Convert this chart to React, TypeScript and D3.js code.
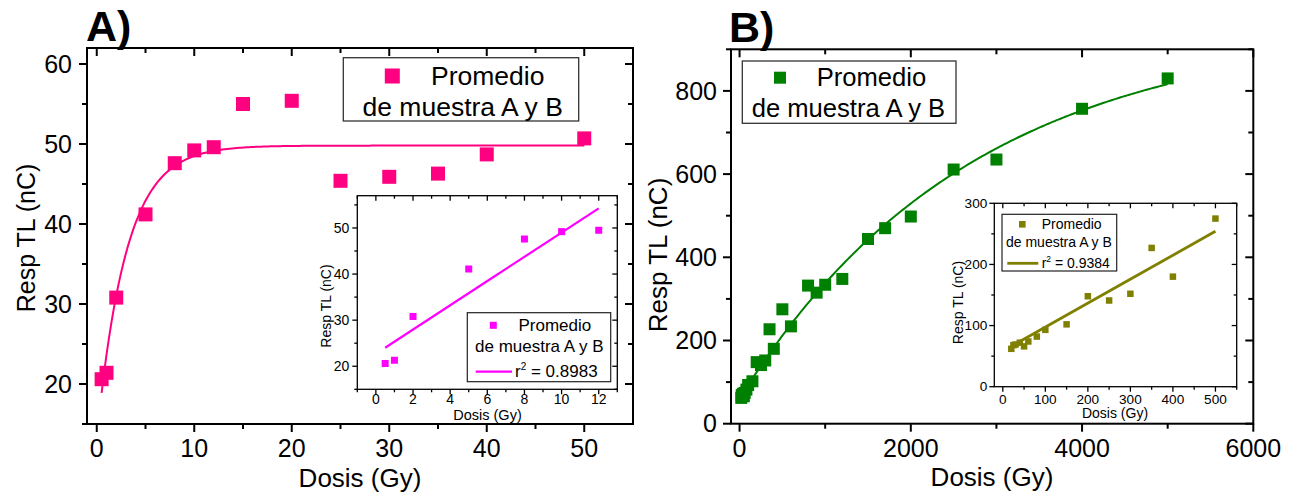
import React from "react";
import * as d3 from "d3";

// ---------- Data ----------
const doseA = [0.5, 1, 2, 5, 8, 10, 12, 15, 20, 25, 30, 35, 40, 50];
const respA = [20.6, 21.4, 30.8, 41.2, 47.6, 49.2, 49.6, 55.0, 55.4, 45.4, 45.9, 46.3, 48.7, 50.7];

const doseAInset = [0.5, 1, 2, 5, 8, 10, 12];
const respAInset = [20.6, 21.3, 30.8, 41.1, 47.6, 49.2, 49.5];

const doseB = [20, 25, 30, 40, 50, 60, 80, 100, 150, 200, 250, 300, 350, 400, 500, 600, 800, 900, 1000, 1200, 1500, 1700, 2000, 2500, 3000, 4000, 5000];
const respB = [62, 68, 69, 72, 66, 74, 82, 93, 102, 148, 141, 152, 227, 180, 275, 234, 332, 315, 334, 348, 444, 470, 498, 611, 635, 757, 830];

const doseBInset = [20, 25, 30, 40, 50, 60, 80, 100, 150, 200, 250, 300, 350, 400, 500];
const respBInset = [62, 68, 69, 72, 66, 74, 82, 93, 102, 148, 141, 152, 227, 180, 275];

// fit parameters
const fitA = { plateau: 49.8, amp: 36.5, tau: 3.0, from: 0.5, to: 50 };
const fitAInset = { slope: 2.63, intercept: 22.7, from: 0.5, to: 12, r2: "0.8983" };
const fitB = { y0: 60, amp: 897, tau: 2700, from: 20, to: 5000 };
const fitBInset = { slope: 0.392, intercept: 58.2, from: 20, to: 500, r2: "0.9384" };

// ticks
const ticksAX = [0, 10, 20, 30, 40, 50];
const ticksAXMinor = [5, 15, 25, 35, 45];
const ticksAY = [20, 30, 40, 50, 60];
const ticksAYMinor = [15, 25, 35, 45, 55];
const ticksAiX = [0, 2, 4, 6, 8, 10, 12];
const ticksAiXMinor = [-1, 1, 3, 5, 7, 9, 11, 13];
const ticksAiY = [20, 30, 40, 50];
const ticksAiYMinor = [15, 25, 35, 45, 55];
const ticksBX = [0, 2000, 4000, 6000];
const ticksBXMinor = [1000, 3000, 5000];
const ticksBY = [0, 200, 400, 600, 800];
const ticksBYMinor = [100, 300, 500, 700, 900];
const ticksBiX = [0, 100, 200, 300, 400, 500];
const ticksBiXMinor = [50, 150, 250, 350, 450, 550];
const ticksBiY = [0, 100, 200, 300];
const ticksBiYMinor = [50, 150, 250];

const legendLine1 = "Promedio";
const legendLine2 = "de muestra A y B";
const xTitle = "Dosis (Gy)";
const yTitle = "Resp TL (nC)";

const FONT = "'Liberation Sans', Arial, Helvetica, sans-serif";
const PINK = "#ff0080";
const MAGENTA = "#ff00ff";
const GREEN = "#008000";
const OLIVE = "#808000";

type Lin = d3.ScaleLinear<number, number>;

function Frame(props: {
  x: Lin; y: Lin; xMajor: number[]; xMinor: number[]; yMajor: number[]; yMinor: number[];
  majorLen: number; minorLen: number; stroke: number; fontSize: number;
  xLabelDy: number; yLabelDx: number;
}) {
  const { x, y, xMajor, xMinor, yMajor, yMinor, majorLen, minorLen, stroke, fontSize, xLabelDy, yLabelDx } = props;
  const [x0, x1] = x.range();
  const [y0, y1] = y.range(); // y0 bottom, y1 top
  const inX = (v: number) => { const [a, b] = x.domain(); return v >= a && v <= b; };
  const inY = (v: number) => { const [a, b] = y.domain(); return v >= a && v <= b; };
  const els: React.ReactNode[] = [];
  let k = 0;
  const xt = (v: number, len: number) => {
    const px = x(v);
    els.push(<line key={k++} x1={px} x2={px} y1={y0} y2={y0 + len} stroke="#000" strokeWidth={stroke} />);
    els.push(<line key={k++} x1={px} x2={px} y1={y1} y2={y1 + len} stroke="#000" strokeWidth={stroke} />);
  };
  const yt = (v: number, len: number) => {
    const py = y(v);
    els.push(<line key={k++} x1={x0} x2={x0 - len} y1={py} y2={py} stroke="#000" strokeWidth={stroke} />);
    els.push(<line key={k++} x1={x1} x2={x1 - len} y1={py} y2={py} stroke="#000" strokeWidth={stroke} />);
  };
  xMajor.filter(inX).forEach((v) => xt(v, majorLen));
  xMinor.filter(inX).forEach((v) => xt(v, minorLen));
  yMajor.filter(inY).forEach((v) => yt(v, majorLen));
  yMinor.filter(inY).forEach((v) => yt(v, minorLen));
  xMajor.filter(inX).forEach((v) => {
    els.push(
      <text key={k++} x={x(v)} y={y0 + xLabelDy} fontSize={fontSize} textAnchor="middle" fontFamily={FONT}>{v}</text>
    );
  });
  yMajor.filter(inY).forEach((v) => {
    els.push(
      <text key={k++} x={x0 - yLabelDx} y={y(v)} dy="0.35em" fontSize={fontSize} textAnchor="end" fontFamily={FONT}>{v}</text>
    );
  });
  return (
    <g>
      {els}
      <rect x={x0} y={y1} width={x1 - x0} height={y0 - y1} fill="none" stroke="#000" strokeWidth={stroke} />
    </g>
  );
}

function Squares({ xs, ys, x, y, size, color }: { xs: number[]; ys: number[]; x: Lin; y: Lin; size: number; color: string }) {
  return (
    <g>
      {xs.map((d, i) => (
        <rect key={i} x={x(d) - size / 2} y={y(ys[i]) - size / 2} width={size} height={size} fill={color} />
      ))}
    </g>
  );
}

function curvePath(fn: (v: number) => number, from: number, to: number, x: Lin, y: Lin, n = 200) {
  const pts: [number, number][] = d3.range(n + 1).map((i) => {
    const v = from + ((to - from) * i) / n;
    return [x(v), y(fn(v))];
  });
  return d3.line()(pts) || "";
}

export default function App() {
  // Panel A
  const xA = d3.scaleLinear().domain([-1, 55]).range([87, 633]);
  const yA = d3.scaleLinear().domain([15, 62]).range([424, 48]);
  const xAi = d3.scaleLinear().domain([-1, 13]).range([357.3, 617.3]);
  const yAi = d3.scaleLinear().domain([15, 57]).range([389.3, 195.7]);
  // Panel B
  const xB = d3.scaleLinear().domain([-100, 6000]).range([731, 1253.3]);
  const yB = d3.scaleLinear().domain([0, 900]).range([423.7, 49.3]);
  const xBi = d3.scaleLinear().domain([-20, 550]).range([994.3, 1236.7]);
  const yBi = d3.scaleLinear().domain([0, 300]).range([386.7, 203.3]);

  const pathA = curvePath((v) => fitA.plateau - fitA.amp * Math.exp(-v / fitA.tau), fitA.from, fitA.to, xA, yA);
  const pathAi = curvePath((v) => fitAInset.intercept + fitAInset.slope * v, fitAInset.from, fitAInset.to, xAi, yAi, 2);
  const pathB = curvePath((v) => fitB.y0 + fitB.amp * (1 - Math.exp(-v / fitB.tau)), fitB.from, fitB.to, xB, yB);
  const pathBi = curvePath((v) => fitBInset.intercept + fitBInset.slope * v, fitBInset.from, fitBInset.to, xBi, yBi, 2);

  return (
    <svg width={1294} height={502} style={{ position: "absolute", left: 0, top: 0, background: "#fff" }} fontFamily={FONT}>
      <rect x={0} y={0} width={1294} height={502} fill="#fff" />

      {/* ===== Panel A ===== */}
      <text x={86} y={41} fontSize={43} fontWeight="bold" fontFamily={FONT}>A)</text>
      <Frame x={xA} y={yA} xMajor={ticksAX} xMinor={ticksAXMinor} yMajor={ticksAY} yMinor={ticksAYMinor}
        majorLen={8} minorLen={5} stroke={2} fontSize={25} xLabelDy={33} yLabelDx={15} />
      <path d={pathA} fill="none" stroke={PINK} strokeWidth={2} />
      <Squares xs={doseA} ys={respA} x={xA} y={yA} size={14} color={PINK} />
      <text x={360} y={487} fontSize={26} textAnchor="middle">{xTitle}</text>
      <text transform="translate(35,238) rotate(-90)" fontSize={25} textAnchor="middle">{yTitle}</text>
      {/* legend A */}
      <rect x={343.3} y={57.7} width={235.4} height={63.3} fill="#fff" stroke="#333" strokeWidth={1.3} />
      <rect x={392.3 - 7.5} y={76 - 7.5} width={15} height={15} fill={PINK} />
      <text x={431} y={85} fontSize={26.5}>{legendLine1}</text>
      <text x={362.5} y={115.5} fontSize={26.5}>{legendLine2}</text>

      {/* inset A */}
      <rect x={357.3} y={195.7} width={260} height={193.6} fill="#fff" />
      <Frame x={xAi} y={yAi} xMajor={ticksAiX} xMinor={ticksAiXMinor} yMajor={ticksAiY} yMinor={ticksAiYMinor}
        majorLen={5} minorLen={3} stroke={1.3} fontSize={14} xLabelDy={15} yLabelDx={8} />
      <path d={pathAi} fill="none" stroke={MAGENTA} strokeWidth={2.2} />
      <Squares xs={doseAInset} ys={respAInset} x={xAi} y={yAi} size={7} color={MAGENTA} />
      <text x={487.5} y={419.5} fontSize={14.5} textAnchor="middle">{xTitle}</text>
      <text transform="translate(331,306) rotate(-90)" fontSize={14} textAnchor="middle">{yTitle}</text>
      <rect x={467.3} y={312.7} width={143.4} height={69} fill="#fff" stroke="#222" strokeWidth={1.2} />
      <rect x={493.3 - 3.5} y={325.3 - 3.5} width={7} height={7} fill={MAGENTA} />
      <text x={518.5} y={331} fontSize={17}>{legendLine1}</text>
      <text x={475} y={352} fontSize={17}>{legendLine2}</text>
      <line x1={475.7} x2={512} y1={371.7} y2={371.7} stroke={MAGENTA} strokeWidth={2.2} />
      <text x={515} y={377} fontSize={17}>
        <tspan>r</tspan><tspan dy={-7} fontSize={10}>2</tspan><tspan dy={7}> = {fitAInset.r2}</tspan>
      </text>

      {/* ===== Panel B ===== */}
      <text x={729} y={42} fontSize={43} fontWeight="bold" fontFamily={FONT}>B)</text>
      <Frame x={xB} y={yB} xMajor={ticksBX} xMinor={ticksBXMinor} yMajor={ticksBY} yMinor={ticksBYMinor}
        majorLen={8} minorLen={5} stroke={2} fontSize={25} xLabelDy={33} yLabelDx={14} />
      <path d={pathB} fill="none" stroke={GREEN} strokeWidth={2} />
      <Squares xs={doseB} ys={respB} x={xB} y={yB} size={12} color={GREEN} />
      <text x={992} y={486} fontSize={26} textAnchor="middle">{xTitle}</text>
      <text transform="translate(667,255) rotate(-90)" fontSize={26} textAnchor="middle">{yTitle}</text>
      {/* legend B */}
      <rect x={742.3} y={61} width={213.7} height={62.3} fill="#fff" stroke="#333" strokeWidth={1.3} />
      <rect x={780 - 6} y={77.7 - 6} width={12} height={12} fill={GREEN} />
      <text x={816.7} y={86} fontSize={25.6}>{legendLine1}</text>
      <text x={751.7} y={116.5} fontSize={25.6}>{legendLine2}</text>

      {/* inset B */}
      <rect x={994.3} y={203.3} width={242.4} height={183.4} fill="#fff" />
      <Frame x={xBi} y={yBi} xMajor={ticksBiX} xMinor={ticksBiXMinor} yMajor={ticksBiY} yMinor={ticksBiYMinor}
        majorLen={5} minorLen={3} stroke={1.3} fontSize={13.6} xLabelDy={17} yLabelDx={7} />
      <path d={pathBi} fill="none" stroke={OLIVE} strokeWidth={2.8} />
      <Squares xs={doseBInset} ys={respBInset} x={xBi} y={yBi} size={6.5} color={OLIVE} />
      <text x={1115} y={418} fontSize={14} textAnchor="middle">{xTitle}</text>
      <text transform="translate(963,302.5) rotate(-90)" fontSize={14} textAnchor="middle">{yTitle}</text>
      <rect x={1002} y={214.3} width={114.7} height={56.7} fill="#fff" stroke="#222" strokeWidth={1.2} />
      <rect x={1022.3 - 3.3} y={224.3 - 3.3} width={6.6} height={6.6} fill={OLIVE} />
      <text x={1041.7} y={229} fontSize={14}>{legendLine1}</text>
      <text x={1006} y={247} fontSize={14}>{legendLine2}</text>
      <line x1={1007.3} x2={1038.3} y1={263.3} y2={263.3} stroke={OLIVE} strokeWidth={2.8} />
      <text x={1041.7} y={268} fontSize={14}>
        <tspan>r</tspan><tspan dy={-6} fontSize={8.5}>2</tspan><tspan dy={6}> = {fitBInset.r2}</tspan>
      </text>
    </svg>
  );
}
